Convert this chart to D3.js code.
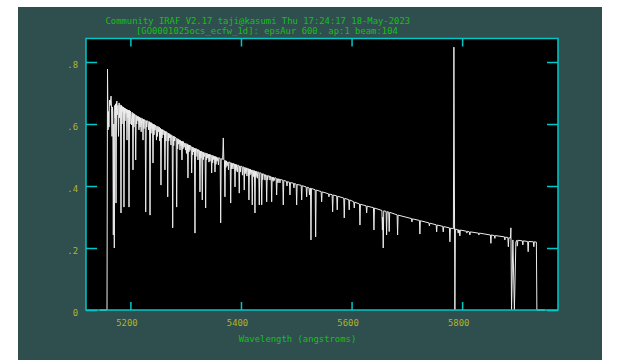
<!DOCTYPE html>
<html>
<head>
<meta charset="utf-8">
<script src="https://cdn.jsdelivr.net/npm/d3@7"></script>
<style>
    html, body { margin: 0; padding: 0; background: #ffffff; }
    svg { display: block; }
    text { font-family: 'DejaVu Sans Mono', 'Liberation Mono', monospace; font-size: 8.9px; }
</style>
</head>
<body>
<div id="graph"></div>
<script>
// spectrum: wavelength (angstroms) and flux
let wave = [
    5145.1, 5157.7, 5158.6, 5159.6, 5160.4, 5161.2, 5162.2, 5163.4, 5165.0, 5165.9,
    5166.8, 5167.6, 5168.2, 5169.1, 5170.0, 5170.9, 5171.8, 5172.4, 5173.1, 5174.0,
    5174.9, 5175.6, 5176.5, 5177.5, 5178.5, 5179.5, 5180.5, 5181.3, 5182.1, 5183.0,
    5183.9, 5184.8, 5185.7, 5186.6, 5187.5, 5188.4, 5189.3, 5190.2, 5191.1, 5192.1,
    5193.0, 5193.9, 5194.8, 5195.7, 5196.6, 5197.5, 5198.4, 5199.3, 5200.2, 5201.1,
    5202.0, 5202.9, 5203.8, 5204.7, 5205.6, 5206.5, 5207.4, 5208.7, 5209.6, 5210.5,
    5211.4, 5212.3, 5213.7, 5214.6, 5215.5, 5216.4, 5217.3, 5218.2, 5219.5, 5220.4,
    5221.9, 5222.8, 5223.7, 5224.6, 5225.5, 5226.8, 5227.7, 5228.6, 5229.5, 5230.4,
    5231.9, 5232.8, 5233.7, 5234.6, 5235.5, 5236.4, 5237.3, 5238.2, 5239.1, 5240.0,
    5240.9, 5241.8, 5242.7, 5243.6, 5244.5, 5245.4, 5246.3, 5247.2, 5248.1, 5249.0,
    5249.9, 5251.3, 5252.2, 5253.1, 5254.0, 5254.4, 5255.3, 5256.2, 5257.1, 5258.0,
    5259.0, 5259.9, 5261.6, 5262.5, 5263.4, 5264.3, 5265.2, 5266.6, 5267.5, 5268.4,
    5269.3, 5270.2, 5271.1, 5272.5, 5273.4, 5274.3, 5275.6, 5276.5, 5277.4, 5278.3,
    5279.2, 5280.1, 5281.0, 5282.8, 5283.7, 5284.6, 5285.5, 5286.4, 5287.3, 5288.8,
    5289.7, 5290.6, 5291.5, 5292.4, 5293.3, 5294.2, 5295.1, 5296.0, 5297.0, 5298.7,
    5299.6, 5300.5, 5301.4, 5302.3, 5303.2, 5304.1, 5305.0, 5305.9, 5306.8, 5307.7,
    5308.6, 5309.9, 5310.8, 5311.7, 5312.6, 5313.5, 5314.4, 5315.9, 5316.8, 5317.7,
    5318.6, 5319.5, 5321.3, 5322.2, 5323.1, 5324.9, 5325.8, 5326.7, 5327.6, 5328.5,
    5329.1, 5330.0, 5330.9, 5331.8, 5332.7, 5333.6, 5335.2, 5336.1, 5337.0, 5337.9,
    5338.8, 5340.0, 5341.2, 5342.1, 5343.0, 5343.9, 5344.8, 5346.1, 5347.0, 5347.9,
    5348.8, 5349.7, 5350.9, 5352.1, 5353.0, 5353.9, 5354.8, 5355.7, 5356.8, 5358.3,
    5359.2, 5360.1, 5362.4, 5363.3, 5364.2, 5366.9, 5368.0, 5369.0, 5370.1, 5371.0,
    5371.9, 5372.8, 5373.7, 5374.8, 5376.5, 5377.4, 5378.3, 5380.5, 5381.4, 5382.3,
    5383.2, 5384.1, 5385.6, 5386.5, 5388.3, 5389.2, 5390.1, 5391.0, 5391.9, 5393.4,
    5394.3, 5396.0, 5396.9, 5397.8, 5398.8, 5399.7, 5401.8, 5402.7, 5403.6, 5405.0,
    5405.9, 5406.8, 5407.7, 5408.6, 5409.9, 5410.8, 5411.7, 5413.5, 5414.4, 5415.3,
    5416.2, 5417.1, 5418.2, 5419.5, 5420.4, 5421.3, 5422.2, 5423.1, 5424.4, 5425.3,
    5426.2, 5427.1, 5428.0, 5429.5, 5430.4, 5432.2, 5433.1, 5434.0, 5436.6, 5437.5,
    5438.4, 5439.3, 5440.2, 5442.5, 5443.4, 5444.3, 5445.6, 5446.5, 5447.4, 5448.3,
    5449.2, 5451.6, 5452.5, 5453.4, 5454.6, 5455.5, 5456.4, 5458.2, 5459.1, 5460.6,
    5461.5, 5463.6, 5464.5, 5465.4, 5467.0, 5467.9, 5469.6, 5470.5, 5471.4, 5475.6,
    5476.5, 5477.4, 5482.3, 5483.2, 5484.1, 5487.7, 5488.6, 5489.5, 5494.9, 5495.8,
    5496.7, 5499.8, 5500.7, 5501.6, 5508.9, 5509.8, 5510.7, 5517.9, 5518.8, 5519.7,
    5523.0, 5523.9, 5524.8, 5525.7, 5526.6, 5527.5, 5534.2, 5535.1, 5536.0, 5545.0,
    5545.9, 5546.8, 5558.2, 5559.1, 5560.0, 5564.9, 5565.8, 5566.7, 5573.2, 5574.1,
    5575.0, 5585.9, 5586.8, 5587.7, 5594.9, 5595.8, 5596.7, 5604.0, 5604.9, 5605.8,
    5614.3, 5615.2, 5616.1, 5626.4, 5627.3, 5628.2, 5639.6, 5640.5, 5641.4, 5654.9,
    5655.8, 5656.4, 5657.3, 5658.2, 5662.5, 5663.4, 5664.3, 5667.2, 5668.1, 5669.0,
    5682.4, 5683.3, 5684.2, 5708.3, 5709.2, 5710.1, 5722.7, 5723.6, 5724.5, 5739.9,
    5740.8, 5741.7, 5753.0, 5753.9, 5754.8, 5764.9, 5765.8, 5766.7, 5777.0, 5777.9,
    5778.8, 5784.2, 5785.1, 5786.9, 5787.8, 5792.0, 5792.9, 5793.8, 5795.0, 5795.9,
    5796.8, 5807.7, 5808.6, 5809.5, 5813.1, 5814.0, 5814.9, 5829.4, 5830.3, 5831.2,
    5851.1, 5852.0, 5852.9, 5858.3, 5859.2, 5860.1, 5876.4, 5877.3, 5878.2, 5882.7,
    5883.6, 5884.5, 5887.3, 5888.2, 5889.4, 5891.8, 5894.5, 5897.2, 5899.0, 5899.9,
    5900.8, 5908.9, 5909.8, 5910.7, 5918.5, 5919.4, 5920.3, 5928.8, 5929.7, 5930.6,
    5934.3, 5935.2, 5949.6
];
let flux = [
    0.000, 0.000, 0.777, 0.581, 0.640, 0.590, 0.677, 0.660, 0.690, 0.650,
    0.560, 0.655, 0.640, 0.242, 0.600, 0.200, 0.660, 0.620, 0.665, 0.345,
    0.668, 0.674, 0.630, 0.660, 0.560, 0.668, 0.620, 0.662, 0.655, 0.313,
    0.660, 0.600, 0.656, 0.640, 0.655, 0.332, 0.652, 0.610, 0.650, 0.635,
    0.648, 0.548, 0.646, 0.620, 0.645, 0.332, 0.644, 0.600, 0.642, 0.620,
    0.597, 0.638, 0.636, 0.452, 0.634, 0.590, 0.632, 0.630, 0.484, 0.628,
    0.600, 0.626, 0.610, 0.624, 0.581, 0.622, 0.590, 0.620, 0.575, 0.619,
    0.617, 0.548, 0.615, 0.585, 0.614, 0.612, 0.316, 0.611, 0.590, 0.610,
    0.609, 0.581, 0.608, 0.607, 0.306, 0.605, 0.570, 0.604, 0.585, 0.601,
    0.474, 0.599, 0.565, 0.598, 0.580, 0.596, 0.594, 0.548, 0.593, 0.560,
    0.592, 0.575, 0.590, 0.545, 0.587, 0.585, 0.403, 0.583, 0.555, 0.582,
    0.565, 0.580, 0.578, 0.452, 0.576, 0.545, 0.575, 0.573, 0.365, 0.571,
    0.545, 0.569, 0.555, 0.566, 0.532, 0.564, 0.563, 0.265, 0.561, 0.530,
    0.560, 0.545, 0.557, 0.555, 0.332, 0.553, 0.520, 0.552, 0.535, 0.549,
    0.516, 0.547, 0.530, 0.545, 0.484, 0.544, 0.520, 0.543, 0.525, 0.539,
    0.516, 0.537, 0.505, 0.536, 0.535, 0.426, 0.533, 0.510, 0.532, 0.515,
    0.530, 0.528, 0.442, 0.526, 0.500, 0.525, 0.510, 0.522, 0.248, 0.521,
    0.495, 0.520, 0.518, 0.484, 0.517, 0.515, 0.381, 0.513, 0.490, 0.512,
    0.511, 0.355, 0.510, 0.485, 0.509, 0.495, 0.507, 0.329, 0.506, 0.485,
    0.505, 0.490, 0.503, 0.477, 0.502, 0.480, 0.501, 0.500, 0.442, 0.499,
    0.475, 0.498, 0.485, 0.496, 0.445, 0.495, 0.470, 0.494, 0.480, 0.492,
    0.468, 0.491, 0.489, 0.281, 0.488, 0.486, 0.555, 0.484, 0.483, 0.365,
    0.482, 0.460, 0.481, 0.465, 0.478, 0.452, 0.477, 0.476, 0.345, 0.475,
    0.455, 0.474, 0.455, 0.473, 0.471, 0.397, 0.470, 0.450, 0.469, 0.445,
    0.468, 0.466, 0.377, 0.465, 0.445, 0.464, 0.463, 0.435, 0.462, 0.461,
    0.387, 0.460, 0.440, 0.459, 0.458, 0.432, 0.457, 0.456, 0.355, 0.455,
    0.435, 0.454, 0.440, 0.452, 0.339, 0.451, 0.430, 0.450, 0.449, 0.313,
    0.448, 0.430, 0.447, 0.425, 0.446, 0.444, 0.339, 0.443, 0.441, 0.339,
    0.440, 0.420, 0.439, 0.437, 0.419, 0.436, 0.435, 0.349, 0.434, 0.420,
    0.433, 0.432, 0.419, 0.431, 0.430, 0.349, 0.429, 0.415, 0.428, 0.418,
    0.427, 0.425, 0.371, 0.424, 0.410, 0.423, 0.422, 0.410, 0.421, 0.419,
    0.339, 0.418, 0.415, 0.400, 0.414, 0.412, 0.371, 0.411, 0.409, 0.394,
    0.408, 0.406, 0.339, 0.405, 0.402, 0.355, 0.401, 0.397, 0.365, 0.396,
    0.394, 0.371, 0.393, 0.393, 0.226, 0.392, 0.388, 0.236, 0.387, 0.382,
    0.349, 0.381, 0.375, 0.365, 0.374, 0.372, 0.317, 0.371, 0.368, 0.323,
    0.367, 0.361, 0.297, 0.360, 0.356, 0.323, 0.355, 0.349, 0.329, 0.348,
    0.342, 0.274, 0.341, 0.336, 0.313, 0.335, 0.330, 0.258, 0.329, 0.321,
    0.258, 0.300, 0.200, 0.320, 0.318, 0.242, 0.317, 0.316, 0.253, 0.315,
    0.307, 0.242, 0.306, 0.295, 0.284, 0.294, 0.289, 0.245, 0.288, 0.281,
    0.271, 0.280, 0.275, 0.252, 0.274, 0.270, 0.252, 0.269, 0.265, 0.220,
    0.264, 0.262, 0.848, 0.000, 0.261, 0.259, 0.248, 0.259, 0.258, 0.239,
    0.258, 0.254, 0.248, 0.254, 0.252, 0.242, 0.252, 0.248, 0.242, 0.248,
    0.242, 0.215, 0.242, 0.240, 0.231, 0.240, 0.236, 0.226, 0.235, 0.234,
    0.204, 0.233, 0.232, 0.265, 0.000, 0.226, 0.000, 0.219, 0.225, 0.206,
    0.225, 0.223, 0.210, 0.223, 0.221, 0.188, 0.221, 0.220, 0.204, 0.220,
    0.219, 0.000, 0.000
];

let xTicks = [5200, 5400, 5600, 5800];
let yTicks = [0, 0.2, 0.4, 0.6, 0.8];
let yTickLabels = ['0', '.2', '.4', '.6', '.8'];

let titleLines = [
    'Community IRAF V2.17 taji@kasumi Thu 17:24:17 18-May-2023',
    '[GO0001025ocs_ecfw_1d]: epsAur 600. ap:1 beam:104'
];
let xLabel = 'Wavelength (angstroms)';

let width = 618;
let height = 360;
let margin = { top: 38.5, right: 60, bottom: 50, left: 86 };
let plotW = width - margin.left - margin.right;
let plotH = height - margin.top - margin.bottom;

let frameColor = '#00c8c8';
let labelColor = '#b4b428';
let titleColor = '#14c014';

let svg = d3.select('#graph').append('svg')
    .attr('width', width)
    .attr('height', height);

// slate window behind the plot
svg.append('rect')
    .attr('x', 18)
    .attr('y', 7)
    .attr('width', 584)
    .attr('height', height - 7)
    .attr('fill', '#2f4f4f');

svg.selectAll('text.title')
    .data(titleLines)
    .enter().append('text')
        .attr('class', 'title')
        .attr('x', (d, i) => i === 0 ? 105.5 : 136)
        .attr('y', (d, i) => 23.7 + i * 10)
        .attr('fill', titleColor)
        .text(d => d);

let plotRoot = svg.append('g')
    .attr('transform', 'translate(' + margin.left + ',' + margin.top + ')');

plotRoot.append('rect')
    .attr('width', plotW)
    .attr('height', plotH)
    .attr('fill', '#000000');

let scaleX = d3.scaleLinear().domain([5119.7, 5973.4]).range([0, plotW]);
let scaleY = d3.scaleLinear().domain([0, plotH / 310]).range([plotH, 0]);

let spectrum = d3.line()
    .x((d, i) => scaleX(wave[i]))
    .y(d => scaleY(d));

plotRoot.append('path')
    .datum(flux)
    .attr('d', spectrum)
    .attr('fill', 'none')
    .attr('stroke', '#ececec')
    .attr('stroke-width', 1)
    .attr('stroke-linejoin', 'miter');

// axes, ticks pointing into the plot
let xBottom = plotRoot.append('g')
    .attr('transform', 'translate(0,' + plotH + ')')
    .call(d3.axisBottom(scaleX).tickValues(xTicks).tickSize(-8).tickPadding(10).tickFormat(d3.format('d')));

let xTop = plotRoot.append('g')
    .call(d3.axisTop(scaleX).tickValues(xTicks).tickSize(-8).tickFormat(''));

let yLeft = plotRoot.append('g')
    .call(d3.axisLeft(scaleY).tickValues(yTicks).tickSize(-11).tickPadding(8)
        .tickFormat((d, i) => yTickLabels[i]));

let yRight = plotRoot.append('g')
    .attr('transform', 'translate(' + plotW + ',0)')
    .call(d3.axisRight(scaleY).tickValues(yTicks).tickSize(-11).tickFormat(''));

[xBottom, xTop, yLeft, yRight].forEach(ax => {
    ax.select('.domain').remove();
    ax.selectAll('line').attr('stroke', frameColor).attr('stroke-width', 1.5);
    ax.selectAll('text')
        .attr('fill', labelColor)
        .style('font-family', "'DejaVu Sans Mono', monospace")
        .style('font-size', '8.9px');
});

xBottom.selectAll('text').attr('dx', -4);
yLeft.selectAll('text').attr('y', 3);

plotRoot.append('rect')
    .attr('width', plotW)
    .attr('height', plotH)
    .attr('fill', 'none')
    .attr('stroke', frameColor)
    .attr('stroke-width', 1.5);

svg.append('text')
    .attr('x', 238.7)
    .attr('y', 342)
    .attr('fill', titleColor)
    .text(xLabel);
</script>
</body>
</html>
